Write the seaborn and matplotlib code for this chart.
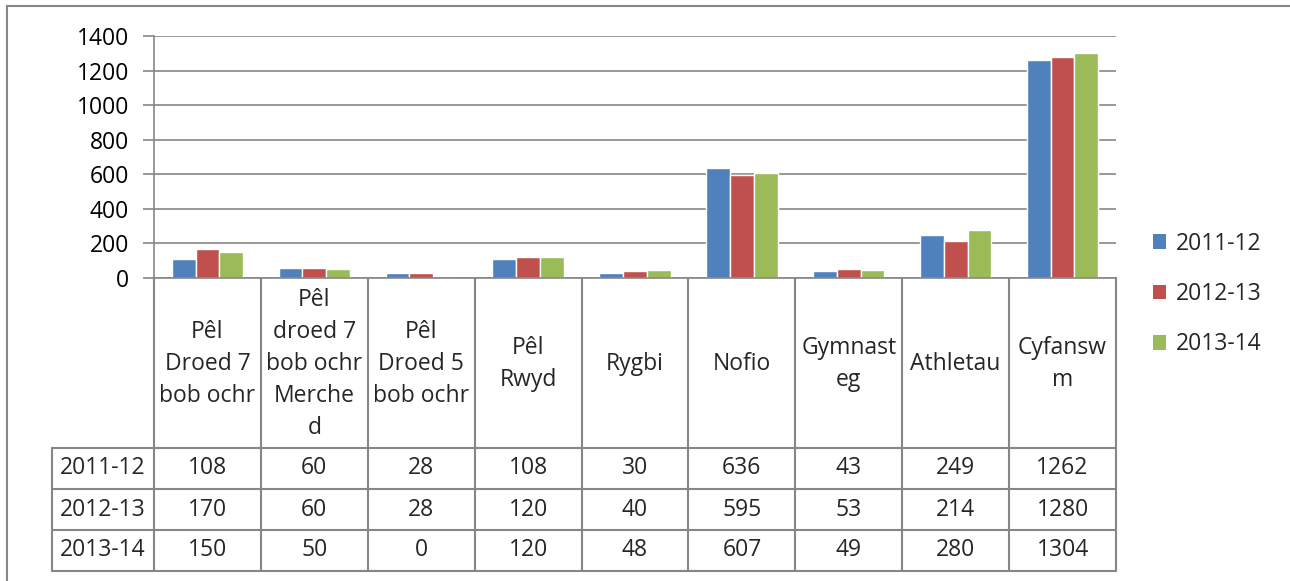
import pandas as pd
import matplotlib
matplotlib.use("Agg")
import matplotlib.pyplot as plt
import seaborn as sns
from matplotlib.patches import Rectangle, Patch

categories = ["Pêl Droed 7 bob ochr", "Pêl droed 7 bob ochr Merched", "Pêl Droed 5 bob ochr",
              "Pêl Rwyd", "Rygbi", "Nofio", "Gymnasteg", "Athletau", "Cyfanswm"]
header_labels = ["Pêl\nDroed 7\nbob ochr", "Pêl\ndroed 7\nbob ochr\nMerche\nd", "Pêl\nDroed 5\nbob ochr",
                 "Pêl\nRwyd", "Rygbi", "Nofio", "Gymnast\neg", "Athletau", "Cyfansw\nm"]
seasons = ["2011-12", "2012-13", "2013-14"]
vals_2011 = [108, 60, 28, 108, 30, 636, 43, 249, 1262]
vals_2012 = [170, 60, 28, 120, 40, 595, 53, 214, 1280]
vals_2013 = [150, 50, 0, 120, 48, 607, 49, 280, 1304]
colors = ["#4F81BD", "#C0504D", "#9BBB59"]

W, H = 1290, 581
sns.set_style("white")
plt.rcParams["font.family"] = ["Open Sans", "DejaVu Sans"]
FS = 16.5
GRID = "#868686"

df = pd.DataFrame({
    "cat": categories * 3,
    "season": [s for s in seasons for _ in categories],
    "value": vals_2011 + vals_2012 + vals_2013,
})

fig = plt.figure(figsize=(W / 100, H / 100), dpi=100)

# outer chart frame
fig.patches.append(Rectangle((7 / W, -0.05), 1.2, (H - 6) / H + 0.05, transform=fig.transFigure,
                             fill=False, edgecolor=GRID, linewidth=1.5))

# plot area
px0, px1, py0, py1 = 154, 1116, 278, 36
ax = fig.add_axes([px0 / W, (H - py0) / H, (px1 - px0) / W, (py0 - py1) / H])
sns.barplot(data=df, x="cat", y="value", hue="season", order=categories, hue_order=seasons,
            palette=colors, width=0.667, saturation=1, ax=ax, legend=False, errorbar=None)
ax.set_xlim(-0.5, len(categories) - 0.5)
ax.set_ylim(0, 1400)
ax.set_yticks(range(0, 1401, 200))
ax.yaxis.grid(True, color=GRID, linewidth=1.2)
ax.set_axisbelow(True)
ax.set_xticks([])
ax.set_xlabel("")
ax.set_ylabel("")
for s in ["top", "right"]:
    ax.spines[s].set_visible(False)
for s in ["left", "bottom"]:
    ax.spines[s].set_color(GRID)
    ax.spines[s].set_linewidth(1.2)
ax.tick_params(axis="y", which="both", left=True, length=8, width=1.2, color=GRID,
               labelsize=FS, pad=10, labelcolor="black")

# data table below the plot area
tx0, ty1 = 52, 571
tax = fig.add_axes([tx0 / W, (H - ty1) / H, (px1 - tx0) / W, (ty1 - py0) / H])
n = len(categories)
lab_w = (px0 - tx0) / ((px1 - px0) / n)
header_h, row_h = 170, 41
total_h = header_h + row_h * 3
tax.set_xlim(-0.5 - lab_w, n - 0.5)
tax.set_ylim(total_h, 0)
tax.axis("off")
lc = dict(color=GRID, linewidth=1.5, clip_on=False)
for i in range(n + 1):
    tax.plot([i - 0.5, i - 0.5], [0, total_h], **lc)
tax.plot([-0.5 - lab_w] * 2, [header_h, total_h], **lc)
for r in range(4):
    y = header_h + r * row_h
    tax.plot([-0.5 - lab_w, n - 0.5], [y, y], **lc)
for i, lab in enumerate(header_labels):
    tax.text(i, header_h / 2 + 1, lab, ha="center", va="center", fontsize=FS, linespacing=1.45)
for r, (s, vals) in enumerate(zip(seasons, [vals_2011, vals_2012, vals_2013])):
    yc = header_h + r * row_h + row_h / 2
    tax.text(-0.5 - lab_w / 2, yc, s, ha="center", va="center", fontsize=FS)
    for i, v in enumerate(vals):
        tax.text(i, yc, str(v), ha="center", va="center", fontsize=FS)

# legend
handles = [Patch(facecolor=c, edgecolor="none") for c in colors]
fig.legend(handles, seasons, loc="center left", bbox_to_anchor=(1132 / W, (H - 294) / H),
           frameon=False, fontsize=FS, handlelength=0.6, handleheight=0.6,
           handletextpad=0.4, labelspacing=1.15)

fig.savefig("out.png", dpi=100)
